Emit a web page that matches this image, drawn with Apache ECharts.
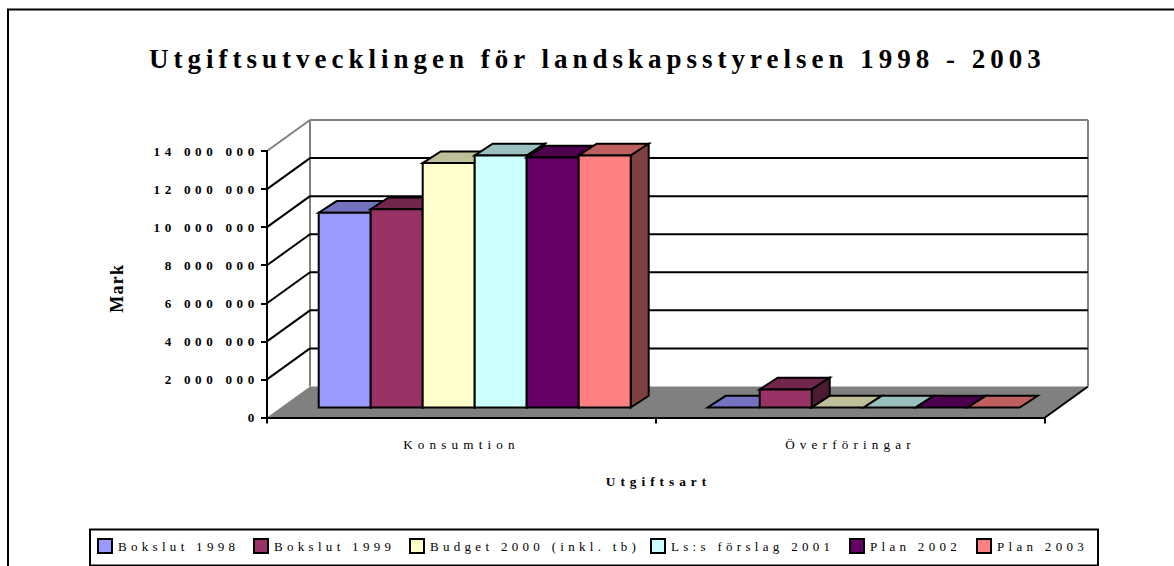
<!DOCTYPE html>
<html>
<head>
<meta charset="utf-8">
<script src="https://cdn.jsdelivr.net/npm/echarts@6/dist/echarts.min.js"></script>
<style>
html,body{margin:0;padding:0;background:#fff}
#c{width:1174px;height:566px}
svg text{letter-spacing:4.3px}
svg text[style*="27px"]{letter-spacing:5px}
svg text[style*="13.1px"]{letter-spacing:4.65px}
svg text[style*="13.2px"]{letter-spacing:5.15px}
svg text[style*="13.3px"]{letter-spacing:5px}
svg text[style*="18px"]{letter-spacing:1.2px}
</style>
</head>
<body>
<div id="c"></div>
<script>
const titleText = 'Utgiftsutvecklingen för landskapsstyrelsen 1998 - 2003';
const categories = ['Konsumtion', 'Överföringar'];
const yTicks = [0, 2000000, 4000000, 6000000, 8000000, 10000000, 12000000, 14000000];
const names = ['Bokslut 1998', 'Bokslut 1999', 'Budget 2000 (inkl. tb)', 'Ls:s förslag 2001', 'Plan 2002', 'Plan 2003'];
const bokslut1998 = [10230000, 0];
const bokslut1999 = [10420000, 950000];
const budget2000 = [12840000, 0];
const forslag2001 = [13240000, 0];
const plan2002 = [13130000, 0];
const plan2003 = [13240000, 0];
const values = [bokslut1998, bokslut1999, budget2000, forslag2001, plan2002, plan2003];
const front = ['#9999FF', '#993366', '#FFFFCC', '#CCFFFF', '#660066', '#FF8080'];
const topC = ['#7373BF', '#73264D', '#BFBF99', '#99BFBF', '#4D004D', '#BF6060'];
const sideC = ['#4D4D80', '#4D1A33', '#808066', '#668080', '#330033', '#804040'];
const legendX = [97, 253, 409, 650, 849, 976];

const FONT = '"Liberation Serif", serif';
const WALL = [43, -31], NEAR = [13.7, -10], DEPTH = [18, -11.7], BARW = 52, GAP = 38;

function wallItem(params, api) {
  const cs = params.coordSys, v = api.value(1), y = api.coord([0, v])[1];
  const x0 = cs.x, x1 = cs.x + cs.width, kids = [];
  const grey = { stroke: '#808080', lineWidth: 2, fill: 'none' };
  const black = { stroke: '#000', lineWidth: 2, fill: 'none' };
  if (v === 0) {
    kids.push({ type: 'polygon', shape: { points: [[x0, y], [x1, y], [x1 + WALL[0], y + WALL[1]], [x0 + WALL[0], y + WALL[1]]] }, style: { fill: '#808080' } });
    kids.push({ type: 'line', shape: { x1: x1, y1: y, x2: x1 + WALL[0], y2: y + WALL[1] }, style: black });
    const top = cs.y + WALL[1];
    kids.push({ type: 'line', shape: { x1: x0 + WALL[0], y1: top, x2: x0 + WALL[0], y2: y + WALL[1] }, style: grey });
    kids.push({ type: 'line', shape: { x1: x1 + WALL[0], y1: top, x2: x1 + WALL[0], y2: y + WALL[1] }, style: grey });
  } else {
    const s = v === yTicks[yTicks.length - 1] ? grey : black;
    kids.push({ type: 'line', shape: { x1: x0, y1: y, x2: x0 + WALL[0], y2: y + WALL[1] }, style: s });
    kids.push({ type: 'line', shape: { x1: x0 + WALL[0], y1: y + WALL[1], x2: x1 + WALL[0], y2: y + WALL[1] }, style: s });
  }
  return { type: 'group', children: kids };
}

function barItem(si) {
  return function (params, api) {
    const cat = api.value(0), v = api.value(1);
    const left = api.coord([cat, 0])[0] - api.size([1, 0])[0] / 2;
    const x = left + GAP + si * BARW + NEAR[0], xr = x + BARW;
    const yb = api.coord([cat, 0])[1] + NEAR[1], yt = api.coord([cat, v])[1] + NEAR[1];
    const edge = { stroke: '#000', lineWidth: 2, lineJoin: 'miter' };
    const dx = DEPTH[0], dy = DEPTH[1], kids = [];
    kids.push({ type: 'polygon', shape: { points: [[x, yt], [xr, yt], [xr + dx, yt + dy], [x + dx, yt + dy]] }, style: Object.assign({ fill: topC[si] }, edge) });
    if (v > 0) {
      kids.push({ type: 'polygon', shape: { points: [[xr, yt], [xr + dx, yt + dy], [xr + dx, yb + dy], [xr, yb]] }, style: Object.assign({ fill: sideC[si] }, edge) });
      kids.push({ type: 'polygon', shape: { points: [[x, yt], [xr, yt], [xr, yb], [x, yb]] }, style: Object.assign({ fill: front[si] }, edge) });
    }
    return { type: 'group', children: kids };
  };
}

const series = [{
  type: 'custom', name: 'walls', silent: true, z: 1, clip: false,
  coordinateSystem: 'cartesian2d', encode: { x: 0, y: 1 },
  data: yTicks.map(v => [0, v]), renderItem: wallItem
}].concat(names.map((n, si) => ({
  type: 'custom', name: n, z: 2 + si, clip: false,
  coordinateSystem: 'cartesian2d', encode: { x: 0, y: 1 },
  itemStyle: { color: front[si] },
  data: values[si].map((v, c) => [c, v]), renderItem: barItem(si)
})));

const chart = echarts.init(document.getElementById('c'), null, { renderer: 'svg' });
chart.setOption({
  animation: false,
  backgroundColor: '#fff',
  title: { text: titleText, left: 149, top: 45, padding: 0, textStyle: { fontFamily: FONT, fontWeight: 'bold', fontSize: 27, color: '#000' } },
  grid: { left: 267, right: 129, top: 151, bottom: 148.5, containLabel: false },
  legend: names.map((n, i) => ({
    data: [n], left: legendX[i], top: 538, padding: 0, itemWidth: 14, itemHeight: 14, icon: 'rect', selectedMode: false,
    itemStyle: { borderColor: '#000', borderWidth: 2 },
    textStyle: { fontFamily: FONT, fontSize: 13, color: '#000', padding: [0, 0, 0, 1] }
  })),
  xAxis: {
    type: 'category', data: categories, z: 10,
    axisLine: { lineStyle: { color: '#000', width: 2 } },
    axisTick: { show: true, length: 6, lineStyle: { color: '#000', width: 2 } },
    axisLabel: { color: '#000', fontFamily: FONT, fontSize: 13.2, margin: 20 },
    name: 'Utgiftsart', nameLocation: 'middle', nameGap: 57,
    nameTextStyle: { color: '#000', fontFamily: FONT, fontSize: 13.3, fontWeight: 'bold', padding: [0, 0, 0, 5] }
  },
  yAxis: {
    type: 'value', min: 0, max: 14000000, interval: 2000000, z: 10,
    splitLine: { show: false },
    axisLine: { show: true, lineStyle: { color: '#000', width: 2 } },
    axisTick: { show: true, length: 6, lineStyle: { color: '#000', width: 2 } },
    axisLabel: { color: '#000', fontFamily: FONT, fontSize: 13.1, fontWeight: 'bold', margin: 8,
      formatter: v => String(v).replace(/\B(?=(\d{3})+$)/g, ' ') },
    name: 'Mark', nameLocation: 'middle', nameGap: 141, nameRotate: 90,
    nameTextStyle: { color: '#000', fontFamily: FONT, fontSize: 18, fontWeight: 'bold', padding: [0, 8, 0, 0] }
  },
  graphic: [
    { type: 'polyline', silent: true, z: -1, shape: { points: [[8, 570], [8, 9.5], [1180, 9.5]] }, style: { stroke: '#000', lineWidth: 2, fill: 'none' } },
    { type: 'rect', silent: true, z: -1, shape: { x: 90, y: 529.5, width: 1008, height: 36 }, style: { stroke: '#000', lineWidth: 2, fill: '#fff' } }
  ],
  series: series
});
</script>
</body>
</html>
